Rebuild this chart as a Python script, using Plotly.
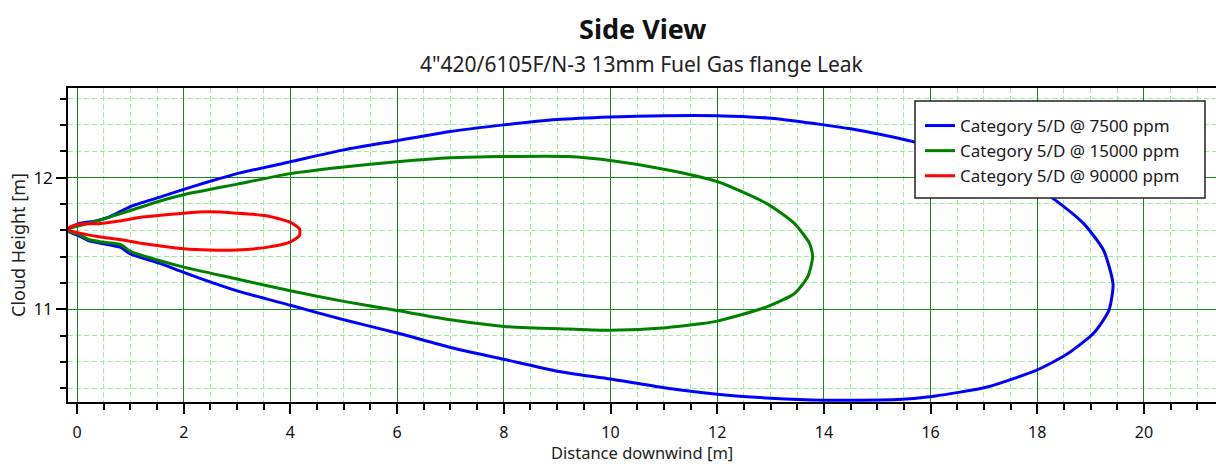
import plotly.graph_objects as go

# Cloud envelope outlines (downwind distance [m], height [m]), traced as closed loops
dist_7500 = [-0.15, 0.03, 0.35, 0.6, 1.0, 1.54, 2.0, 2.48, 3.0, 4.0, 5.0, 6.0, 7.0, 8.0, 9.0, 10.0,
             11.0, 12.0, 13.0, 14.0, 14.5, 15.6, 16.5, 17.3, 17.9, 18.3, 18.87, 19.24, 19.42, 19.34,
             19.06, 18.56, 18.0, 17.06, 16.06, 15.4, 14.0, 13.0, 12.0, 11.0, 10.0, 9.0, 8.0, 7.0, 6.0,
             5.0, 4.0, 3.0, 2.48, 2.0, 1.54, 1.0, 0.82, 0.47, 0.22, 0.03, -0.15, -0.15]
height_7500 = [11.61, 11.65, 11.67, 11.70, 11.78, 11.85, 11.91, 11.97, 12.03, 12.12, 12.21, 12.28,
               12.35, 12.40, 12.44, 12.46, 12.47, 12.47, 12.45, 12.40, 12.37, 12.28, 12.19, 12.08,
               11.95, 11.84, 11.65, 11.45, 11.19, 10.99, 10.82, 10.66, 10.54, 10.41, 10.34, 10.315,
               10.31, 10.325, 10.355, 10.405, 10.47, 10.53, 10.62, 10.71, 10.82, 10.92, 11.03, 11.14,
               11.21, 11.28, 11.35, 11.42, 11.47, 11.50, 11.52, 11.56, 11.59, 11.61]

dist_15000 = [-0.15, 0.28, 0.6, 1.0, 1.54, 2.0, 3.0, 4.0, 5.0, 6.0, 7.0, 8.0, 9.2, 10.0, 11.05, 12.0,
              12.94, 13.45, 13.73, 13.79, 13.70, 13.45, 12.94, 12.0, 11.05, 10.0, 9.2, 8.0, 7.0, 6.0,
              5.0, 4.0, 3.0, 2.0, 1.54, 1.0, 0.82, 0.47, 0.22, 0.03, -0.15, -0.15]
height_15000 = [11.61, 11.66, 11.70, 11.75, 11.82, 11.87, 11.95, 12.03, 12.08, 12.12, 12.15, 12.16,
                12.16, 12.13, 12.06, 11.97, 11.80, 11.65, 11.50, 11.40, 11.25, 11.12, 11.02, 10.91,
                10.86, 10.84, 10.85, 10.87, 10.92, 10.99, 11.06, 11.14, 11.23, 11.32, 11.37, 11.44,
                11.49, 11.51, 11.53, 11.57, 11.59, 11.61]

dist_90000 = [-0.15, 0.03, 0.41, 0.79, 1.23, 2.0, 2.48, 2.99, 3.55, 4.0, 4.17, 4.17, 3.99, 3.55,
              2.99, 2.48, 2.0, 1.23, 0.79, 0.41, 0.03, -0.15, -0.15]
height_90000 = [11.62, 11.645, 11.65, 11.67, 11.70, 11.73, 11.74, 11.73, 11.71, 11.66, 11.61, 11.56,
                11.51, 11.47, 11.45, 11.45, 11.46, 11.50, 11.53, 11.55, 11.58, 11.60, 11.62]

series_names = ["Category 5/D @ 7500 ppm", "Category 5/D @ 15000 ppm", "Category 5/D @ 90000 ppm"]
series_colors = ["#0000ff", "#008000", "#ff0000"]

x_tick_values = [0, 2, 4, 6, 8, 10, 12, 14, 16, 18, 20]
y_tick_values = [11, 12]

title_text = "Side View"
subtitle_text = "4\"420/6105F/N-3 13mm Fuel Gas flange Leak"
x_title = "Distance downwind [m]"
y_title = "Cloud Height [m]"

FONT = "Noto Sans, Open Sans, sans-serif"

fig = go.Figure()
for xs, ys, name, color in zip(
    [dist_7500, dist_15000, dist_90000],
    [height_7500, height_15000, height_90000],
    series_names, series_colors,
):
    fig.add_trace(go.Scatter(x=xs, y=ys, mode="lines", name=name,
                             line=dict(color=color, width=3, shape="spline", smoothing=0.6)))

major_grid = "#1a871a"
minor_grid = "#9cec9c"

# legend frame, drawn as a paper-space box so the padding around the entries can be set
fig.add_shape(type="rect", xref="paper", yref="paper",
              x0=(915 - 68) / 1148, x1=(1205 - 68) / 1148,
              y0=(402 - 198) / 314, y1=(402 - 101) / 314,
              fillcolor="white", line=dict(color="#222222", width=1.5), layer="above")

fig.update_layout(
    width=1216, height=464,
    margin=dict(l=68, r=0, t=88, b=62),
    paper_bgcolor="white", plot_bgcolor="white",
    font=dict(family=FONT, size=17, color="#000000"),
    showlegend=True,
    legend=dict(x=(920 - 68) / 1148, y=(402 - 108) / 314, xanchor="left", yanchor="top",
                bgcolor="rgba(0,0,0,0)", borderwidth=0,
                font=dict(family=FONT, size=17, color="#1a1a1a"),
                tracegroupgap=0, itemwidth=30),
    annotations=[
        dict(text="<b>" + title_text + "</b>", xref="paper", yref="paper", x=0.5, y=1,
             yshift=60, showarrow=False, font=dict(family=FONT, size=27, color="#111111"),
             xanchor="center", yanchor="middle"),
        dict(text=subtitle_text, xref="paper", yref="paper", x=0.5, y=1, yshift=24,
             showarrow=False, font=dict(family=FONT, size=21, color="#222222"),
             xanchor="center", yanchor="middle"),
        dict(text=x_title, xref="paper", yref="paper", x=0.5, y=0, yshift=-50,
             showarrow=False, font=dict(family=FONT, size=16.5, color="#222222"),
             xanchor="center", yanchor="middle"),
        dict(text=y_title, xref="paper", yref="paper", x=0, y=0.5, xshift=-50,
             showarrow=False, textangle=-90, font=dict(family=FONT, size=18, color="#222222"),
             xanchor="center", yanchor="middle"),
    ],
)

fig.update_xaxes(
    range=[-0.169, 21.35], tickmode="array", tickvals=x_tick_values,
    ticktext=[str(v) for v in x_tick_values],
    showgrid=True, gridcolor=major_grid, gridwidth=1, zeroline=False,
    showline=True, linecolor="#000000", linewidth=1.5, mirror=True,
    ticks="outside", ticklen=10, tickcolor="#000000", tickwidth=1.5,
    tickfont=dict(size=16, color="#111111"), ticklabelstandoff=5,
    minor=dict(dtick=0.5, tick0=0, showgrid=True, gridcolor=minor_grid, griddash="5px,3px",
               gridwidth=1, ticks="outside", ticklen=6, tickcolor="#000000", tickwidth=1.5),
)
fig.update_yaxes(
    range=[10.296, 12.68], tickmode="array", tickvals=y_tick_values,
    ticktext=[str(v) for v in y_tick_values],
    showgrid=True, gridcolor=major_grid, gridwidth=1, zeroline=False,
    showline=True, linecolor="#000000", linewidth=1.5, mirror=False,
    ticks="outside", ticklen=10, tickcolor="#000000", tickwidth=1.5,
    tickfont=dict(size=17, color="#111111"),
    minor=dict(dtick=0.2, tick0=0, showgrid=True, gridcolor=minor_grid, griddash="5px,3px",
               gridwidth=1, ticks="outside", ticklen=6, tickcolor="#000000", tickwidth=1.5),
)

fig.write_html("out.html")
